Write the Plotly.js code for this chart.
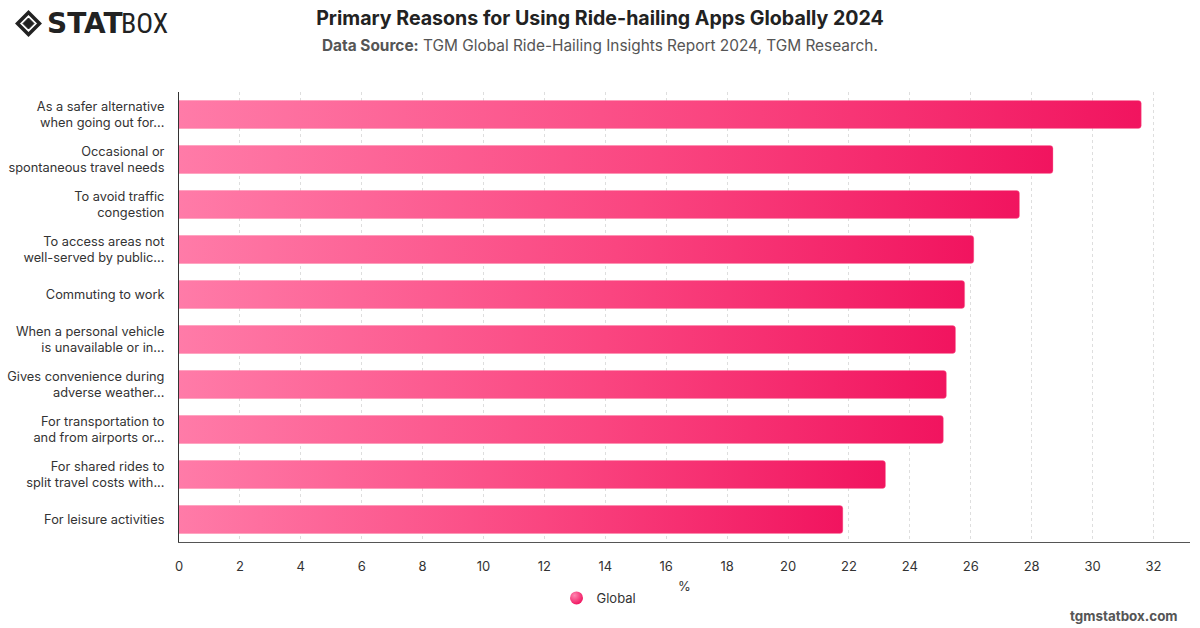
<!DOCTYPE html>
<html>
<head>
<meta charset="utf-8">
<script src="https://cdn.plot.ly/plotly-3.0.1.min.js"></script>
<style>
  html, body { margin: 0; padding: 0; background: #fff; }
  #chart { width: 1200px; height: 628px; }
</style>
</head>
<body>
<div id="chart"></div>
<script>
// Reasons, top to bottom
const reasons = [
  "As a safer alternative<br>when going out for...",
  "Occasional or<br>spontaneous travel needs",
  "To avoid traffic<br>congestion",
  "To access areas not<br>well-served by public...",
  "Commuting to work",
  "When a personal vehicle<br>is unavailable or in...",
  "Gives convenience during<br>adverse weather...",
  "For transportation to<br>and from airports or...",
  "For shared rides to<br>split travel costs with...",
  "For leisure activities"
];
// Share of respondents, %
const globalShare = [31.6, 28.7, 27.6, 26.1, 25.8, 25.5, 25.2, 25.1, 23.2, 21.8];
const xTicks = [0, 2, 4, 6, 8, 10, 12, 14, 16, 18, 20, 22, 24, 26, 28, 30, 32];

const W = 1200, H = 628;
const M = { l: 179, r: 10, t: 92, b: 86 };
const PW = W - M.l - M.r, PH = H - M.t - M.b;
const px = x => (x - M.l) / PW;
const py = y => (H - M.b - y) / PH;

const FONT = "Inter, 'Noto Sans', Arial, sans-serif";

const traces = [
  {
    type: "bar",
    orientation: "h",
    x: globalShare,
    y: reasons,
    name: "Global",
    showlegend: false,
    marker: { color: "#f83a7b", cornerradius: 3, line: { width: 0.6, color: "rgba(255,120,160,0.6)" } },
    hoverinfo: "x+y"
  },
  {
    // legend entry with a round marker
    type: "scatter",
    mode: "markers",
    x: [null],
    y: [null],
    name: "Global",
    marker: { symbol: "circle", size: 13, color: "#f83a7b" }
  }
];

// Logo glyph: outlined diamond with a filled core
const cx = 28.5, cy = 23.5, R = 12.5, r = 5.5;
const diamond = (s) =>
  `M ${px(cx - s)} ${py(cy)} L ${px(cx)} ${py(cy - s)} L ${px(cx + s)} ${py(cy)} L ${px(cx)} ${py(cy + s)} Z`;

const layout = {
  width: W,
  height: H,
  margin: M,
  paper_bgcolor: "#fff",
  plot_bgcolor: "#fff",
  font: { family: FONT, size: 13, color: "#333" },
  bargap: 0.38,
  title: {
    text: "<b>Primary Reasons for Using Ride-hailing Apps Globally 2024</b>",
    font: { family: FONT, size: 19.6, color: "#222" },
    x: 0.5, xref: "container", xanchor: "center",
    y: 1 - 18 / H, yref: "container", yanchor: "middle"
  },
  xaxis: {
    range: [0, 33.2],
    tickvals: xTicks,
    ticktext: xTicks.map(String),
    showgrid: true,
    gridcolor: "#dedede",
    griddash: "dot",
    gridwidth: 1,
    zeroline: false,
    showline: true,
    linecolor: "#555",
    linewidth: 1,
    ticks: "",
    ticklabelstandoff: 12,
    tickfont: { family: FONT, size: 13, color: "#333" },
    title: { text: "%", font: { family: FONT, size: 13, color: "#333" }, standoff: 9 },
    fixedrange: true
  },
  yaxis: {
    type: "category",
    categoryorder: "array",
    categoryarray: reasons,
    autorange: "reversed",
    showgrid: false,
    zeroline: false,
    showline: true,
    linecolor: "#333",
    linewidth: 1,
    ticks: "",
    ticklabelstandoff: 11,
    tickfont: { family: FONT, size: 12.8, color: "#333" },
    fixedrange: true
  },
  showlegend: true,
  legend: {
    orientation: "h",
    x: px(599), xanchor: "center",
    y: py(598), yanchor: "middle",
    font: { family: FONT, size: 13, color: "#333" },
    bgcolor: "rgba(0,0,0,0)"
  },
  shapes: [
    { type: "path", xref: "paper", yref: "paper", path: diamond(R - 1.5),
      line: { color: "#222", width: 3.5 }, fillcolor: "rgba(0,0,0,0)" },
    { type: "path", xref: "paper", yref: "paper", path: diamond(r),
      line: { color: "#222", width: 1 }, fillcolor: "#222" }
  ],
  annotations: [
    {
      text: "<b>Data Source:</b> TGM Global Ride-Hailing Insights Report 2024, TGM Research.",
      xref: "paper", yref: "paper", x: px(600), y: py(45),
      xanchor: "center", yanchor: "middle", showarrow: false,
      font: { family: FONT, size: 15.4, color: "#555" }
    },
    {
      text: "<b>STAT</b>",
      xref: "paper", yref: "paper", x: px(45), y: py(23),
      xanchor: "left", yanchor: "middle", showarrow: false,
      font: { family: "'DejaVu Sans', sans-serif", size: 28, color: "#222", weight: 900 }
    },
    {
      text: "BOX",
      xref: "paper", yref: "paper", x: px(119), y: py(23),
      xanchor: "left", yanchor: "middle", showarrow: false,
      font: { family: "'Liberation Sans Narrow', 'Roboto Condensed', sans-serif", size: 28, color: "#222", weight: 400 }
    },
    {
      text: "<b>tgmstatbox.com</b>",
      xref: "paper", yref: "paper", x: px(1180), y: py(616),
      xanchor: "right", yanchor: "middle", showarrow: false,
      font: { family: FONT, size: 13.4, color: "#555" }
    }
  ]
};

const gd = document.getElementById("chart");
Plotly.newPlot(gd, traces, layout, { displayModeBar: false, responsive: false }).then(() => {
  // Horizontal pink gradient, stretched across each bar
  const svgNS = "http://www.w3.org/2000/svg";
  const svg = gd.querySelector(".main-svg");
  let defs = svg.querySelector("defs");
  if (!defs) { defs = document.createElementNS(svgNS, "defs"); svg.insertBefore(defs, svg.firstChild); }
  const grad = document.createElementNS(svgNS, "linearGradient");
  grad.setAttribute("id", "pinkBarGradient");
  grad.setAttribute("x1", "0"); grad.setAttribute("y1", "0");
  grad.setAttribute("x2", "1"); grad.setAttribute("y2", "0");
  [["0%", "#ff7ba8"], ["55%", "#fa4580"], ["100%", "#f1145f"]].forEach(([o, c]) => {
    const s = document.createElementNS(svgNS, "stop");
    s.setAttribute("offset", o); s.setAttribute("stop-color", c);
    grad.appendChild(s);
  });
  defs.appendChild(grad);

  const rgrad = document.createElementNS(svgNS, "radialGradient");
  rgrad.setAttribute("id", "pinkDotGradient");
  rgrad.setAttribute("cx", "0.35"); rgrad.setAttribute("cy", "0.3"); rgrad.setAttribute("r", "0.75");
  [["0%", "#ff86b0"], ["100%", "#f0125e"]].forEach(([o, c]) => {
    const s = document.createElementNS(svgNS, "stop");
    s.setAttribute("offset", o); s.setAttribute("stop-color", c);
    rgrad.appendChild(s);
  });
  defs.appendChild(rgrad);

  gd.querySelectorAll(".barlayer .point path").forEach(p => { p.style.fill = "url(#pinkBarGradient)"; });
  gd.querySelectorAll(".legend .scatterpts path, .legend .legendpoints path").forEach(p => {
    p.style.fill = "url(#pinkDotGradient)";
  });
});
</script>
</body>
</html>
